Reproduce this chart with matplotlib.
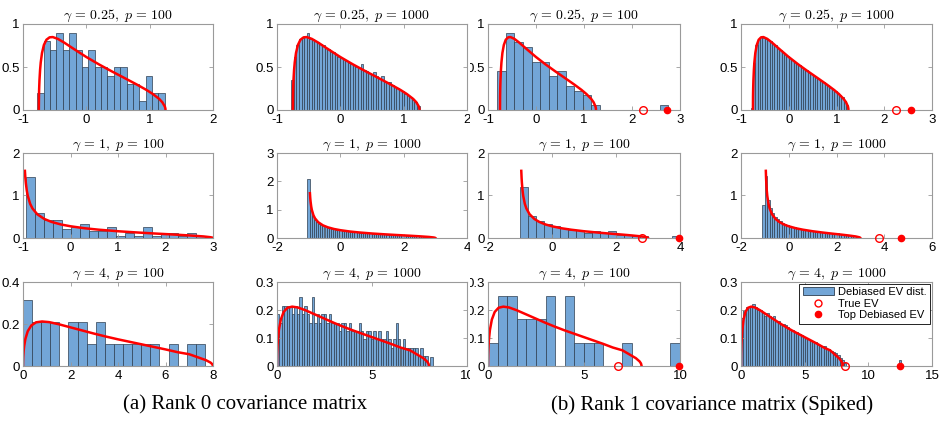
import matplotlib
matplotlib.use('Agg')
import matplotlib.pyplot as plt
from matplotlib.lines import Line2D
from matplotlib.patches import Patch
from matplotlib.transforms import Bbox

plt.rcParams['font.family'] = ['Liberation Sans', 'DejaVu Sans']
plt.rcParams['mathtext.fontset'] = 'cm'
plt.rcParams['axes.unicode_minus'] = False

# ---- red theoretical density curves ----
curve_x_g025 = [-0.75, -0.748, -0.745, -0.74, -0.73, -0.72, -0.70, -0.67, -0.63, -0.58, -0.53, -0.45, -0.35,
                -0.2, 0.0, 0.2, 0.4, 0.6, 0.8, 0.95, 1.05, 1.15, 1.2, 1.24, 1.248, 1.25]
curve_y_g025 = [0, 0.16, 0.249, 0.345, 0.469, 0.553, 0.663, 0.756, 0.817, 0.845, 0.848, 0.827, 0.784,
                0.711, 0.616, 0.530, 0.450, 0.373, 0.295, 0.233, 0.186, 0.129, 0.090, 0.040, 0.018, 0]
curve_x_g1 = [-0.96, -0.95, -0.94, -0.92, -0.9, -0.85, -0.8, -0.7, -0.55, -0.4, -0.2, 0, 0.3, 0.6, 1.0, 1.4,
              1.8, 2.2, 2.5, 2.8, 2.95, 2.99, 3.0]
curve_y_g1 = [1.58, 1.41, 1.29, 1.114, 0.994, 0.806, 0.694, 0.559, 0.447, 0.379, 0.318, 0.276, 0.229, 0.195,
              0.159, 0.130, 0.104, 0.080, 0.060, 0.037, 0.018, 0.008, 0]
curve_x_g4 = [0, 0.002, 0.01, 0.03, 0.05, 0.1, 0.2, 0.35, 0.55, 0.8, 1.1, 1.5, 2, 2.5, 3, 3.5, 4, 4.5, 5, 5.5,
              6, 6.5, 7, 7.4, 7.7, 7.9, 7.97, 8]
curve_y_g4 = [0, 0.020, 0.0445, 0.0756, 0.0956, 0.1286, 0.1657, 0.193, 0.208, 0.212, 0.209, 0.199, 0.184,
              0.169, 0.154, 0.140, 0.127, 0.115, 0.103, 0.091, 0.079, 0.066, 0.056, 0.040, 0.028, 0.016,
              0.0087, 0]

# ---- histogram bar heights (debiased eigenvalue distribution) ----
# rank 0
h_r0_g025_p100 = [0.2, 0.8, 0.7, 0.9, 0.7, 0.9, 0.7, 0.5, 0.7, 0.5, 0.5, 0.4, 0.5, 0.5, 0.3, 0.3, 0.1, 0.4,
                  0.2, 0.2]
h_r0_g025_p1000 = [0.35, 0.62, 0.76, 0.82, 0.84, 0.85, 0.90, 0.83, 0.82, 0.80, 0.79, 0.77, 0.75, 0.72, 0.71,
                   0.68, 0.67, 0.65, 0.62, 0.60, 0.59, 0.57, 0.55, 0.53, 0.52, 0.50, 0.49, 0.53, 0.47, 0.45,
                   0.43, 0.42, 0.44, 0.39, 0.37, 0.40, 0.34, 0.32, 0.33, 0.29, 0.27, 0.26, 0.23, 0.22, 0.19,
                   0.17, 0.15, 0.12, 0.09, 0.05]
h_r0_g1_p100 = [1.43, 0.58, 0.42, 0.42, 0.21, 0.26, 0.32, 0.16, 0.16, 0.26, 0.05, 0.11, 0.05, 0.26, 0.05,
                0.11, 0.11, 0.05, 0.11, 0.05]
h_r0_g1_p1000 = [2.07, 1.0, 0.76, 0.64, 0.56, 0.50, 0.46, 0.42, 0.39, 0.37, 0.35, 0.33, 0.31, 0.30, 0.28,
                 0.27, 0.26, 0.25, 0.24, 0.23, 0.22, 0.21, 0.205, 0.20, 0.19, 0.185, 0.18, 0.17, 0.17, 0.16,
                 0.157, 0.15, 0.146, 0.142, 0.137, 0.132, 0.128, 0.123, 0.119, 0.115, 0.11, 0.106, 0.102,
                 0.098, 0.094, 0.09, 0.086, 0.082, 0.078, 0.073, 0.069, 0.065, 0.06, 0.055, 0.051, 0.045,
                 0.04, 0.033, 0.025, 0.014]
h_r0_g4_p100 = [0.313, 0.209, 0.209, 0.209, 0, 0.209, 0.209, 0.104, 0.209, 0.104, 0.104, 0.104, 0.104, 0.104,
                0.104, 0, 0.104, 0, 0.104, 0.104]
h_r0_g4_p1000 = [0.185, 0.155, 0.215, 0.215, 0.215, 0.215, 0.185, 0.215,
                 0.185, 0.245, 0.185, 0.215, 0.185, 0.155, 0.245, 0.155,
                 0.185, 0.155, 0.185, 0.185, 0.155, 0.185, 0.155, 0.155,
                 0.155, 0.125, 0.155, 0.155, 0.125, 0.155, 0.125, 0.125,
                 0.125, 0.155, 0.125, 0.095, 0.125, 0.125, 0.095, 0.125,
                 0.095, 0.125, 0.095, 0.095, 0.125, 0.095, 0.065, 0.095,
                 0.155, 0.095, 0.065, 0.095, 0.065, 0.065, 0.065, 0.065,
                 0.065, 0.035, 0.065, 0.035, 0.035, 0.0, 0.031]
# rank 1 (spiked)
h_r1_g025_p100 = [0.45, 0.9, 0.79, 0.73, 0.56, 0.56, 0.39, 0.45, 0.28, 0.22, 0.17, 0.06, 0, 0, 0, 0, 0, 0, 0,
                  0.06]
h_r1_g025_p1000 = [0.02, 0.55, 0.75, 0.83, 0.85, 0.84, 0.83, 0.81, 0.80, 0.77, 0.75, 0.72, 0.70, 0.67, 0.65,
                   0.63, 0.60, 0.58, 0.56, 0.54, 0.52, 0.50, 0.48, 0.46, 0.44, 0.42, 0.40, 0.38, 0.36, 0.34,
                   0.33, 0.30, 0.29, 0.26, 0.24, 0.22, 0.20, 0.17, 0.15, 0.11, 0.06]
h_r1_g1_p100 = [1.2, 0.52, 0.4, 0.32, 0.28, 0.24, 0.2, 0.2, 0.12, 0.16, 0.12, 0.16, 0.08, 0.08, 0.04, 0.04,
                0, 0, 0, 0.04]
h_r1_g1_p1000 = [0.77, 1.45, 0.90, 0.70, 0.58, 0.50, 0.44, 0.40, 0.36, 0.33, 0.31, 0.285, 0.265, 0.25, 0.235,
                 0.22, 0.21, 0.20, 0.19, 0.18, 0.17, 0.163, 0.155, 0.148, 0.14, 0.133, 0.127, 0.12, 0.114,
                 0.107, 0.10, 0.12, 0.09, 0.083, 0.076, 0.07, 0.064, 0.057, 0.049, 0.04, 0.03]
h_r1_g4_p100 = [0.083, 0.25, 0.25, 0.167, 0.167, 0.167, 0.25, 0, 0.25, 0.083, 0.083, 0.083, 0, 0, 0.083, 0,
                0, 0, 0, 0.083]
h_r1_g4_p1000 = [0.17, 0.20, 0.21, 0.21, 0.21, 0.22, 0.21, 0.20, 0.20, 0.19, 0.18, 0.19, 0.18, 0.17, 0.18,
                 0.16, 0.16, 0.15, 0.15, 0.145, 0.14, 0.13, 0.13, 0.12, 0.12, 0.115, 0.11, 0.105, 0.10,
                 0.095, 0.09, 0.09, 0.085, 0.08, 0.075, 0.07, 0.07, 0.06, 0.06, 0.055, 0.05, 0.045, 0.04,
                 0.03, 0.02, 0.01]

# bin start and bin width of each histogram
bins_r0 = [(-0.775, 0.1007), (-0.775, 0.0405), (-0.94, 0.189), (-1.04, 0.0675), (0.0, 0.383), (0.0, 0.13)]
bins_r1 = [(-0.805, 0.178), (-0.8, 0.05), (-1.0, 0.25), (-1.1, 0.1), (0.0, 0.5), (0.0, 0.18)]

# lone outlier bar far right in the last panel
outlier_x = [12.42]
outlier_h = [0.022]

# spiked eigenvalue markers (rank 1 panels, order: g025 p100, g025 p1000, g1 p100, g1 p1000, g4 p100, g4 p1000)
true_ev = [2.22, 2.25, 2.82, 3.76, 6.75, 8.17]
top_ev = [2.73, 2.56, 3.98, 4.70, 9.97, 12.52]

gammas = ['0.25', '1', '4']
ps = ['100', '1000']

bar_color = '#73a6d7'
edge_color = '#2e3e50'
frame_color = '#9a9a9a'


def style_axes(ax, xlim, xticks, ylim, yticks):
    # MATLAB-like box with inward ticks on all sides
    ax.set_xlim(xlim)
    ax.set_ylim(ylim)
    ax.set_xticks(xticks)
    ax.set_yticks(yticks)
    ax.set_xticklabels([f'{t:g}' for t in xticks])
    ax.set_yticklabels([f'{t:g}' for t in yticks])
    ax.tick_params(direction='in', top=True, right=True, length=3, width=0.6, color=frame_color,
                   labelsize=9.5)
    ax.tick_params(axis='x', pad=3)
    ax.tick_params(axis='y', pad=2.5)
    for s in ax.spines.values():
        s.set_color(frame_color)
        s.set_linewidth(0.8)


def draw_hist(ax, start, width, heights):
    lefts = [start + i * width for i in range(len(heights))]
    ax.bar(lefts, heights, width=width, align='edge', color=bar_color, edgecolor=edge_color, linewidth=0.5)


def main():
    fig = plt.figure(figsize=(9.41, 4.23), dpi=100)

    col_left = [23, 277, 488, 741]
    col_width = [190, 190, 192, 191]
    row_top = [24, 153, 282]
    row_height = [86, 85, 84]

    curves = [(curve_x_g025, curve_y_g025), (curve_x_g1, curve_y_g1), (curve_x_g4, curve_y_g4)]
    r0_heights = [h_r0_g025_p100, h_r0_g025_p1000, h_r0_g1_p100, h_r0_g1_p1000, h_r0_g4_p100, h_r0_g4_p1000]
    r1_heights = [h_r1_g025_p100, h_r1_g025_p1000, h_r1_g1_p100, h_r1_g1_p1000, h_r1_g4_p100, h_r1_g4_p1000]

    # axis limits and ticks per panel [row][col]
    xlims = [[(-1, 2), (-1, 2), (-1, 3), (-1, 3)],
             [(-1, 3), (-2, 4), (-2, 4), (-2, 6)],
             [(0, 8), (0, 10), (0, 10), (0, 15)]]
    xticks = [[[-1, 0, 1, 2], [-1, 0, 1, 2], [-1, 0, 1, 2, 3], [-1, 0, 1, 2, 3]],
              [[-1, 0, 1, 2, 3], [-2, 0, 2, 4], [-2, 0, 2, 4], [-2, 0, 2, 4, 6]],
              [[0, 2, 4, 6, 8], [0, 5, 10], [0, 5, 10], [0, 5, 10, 15]]]
    ylims = [[1, 1, 1, 1], [2, 3, 2, 2], [0.4, 0.3, 0.3, 0.3]]
    yticks = [[[0, 0.5, 1]] * 4,
              [[0, 1, 2], [0, 1, 2, 3], [0, 1, 2], [0, 1, 2]],
              [[0, 0.2, 0.4], [0, 0.1, 0.2, 0.3], [0, 0.1, 0.2, 0.3], [0, 0.1, 0.2, 0.3]]]

    W, H = 941, 423
    for r in range(3):
        for c in range(4):
            rect = [col_left[c] / W, 1 - (row_top[r] + row_height[r]) / H, col_width[c] / W, row_height[r] / H]
            ax = fig.add_axes(rect)
            k = 2 * r + (c % 2)
            spiked = c >= 2
            heights = r1_heights[k] if spiked else r0_heights[k]
            start, width = bins_r1[k] if spiked else bins_r0[k]
            draw_hist(ax, start, width, heights)
            if spiked and k == 5:
                ax.bar(outlier_x, outlier_h, width=width, align='edge', color=bar_color,
                       edgecolor=edge_color, linewidth=0.5)
            ax.plot(curves[r][0], curves[r][1], color='red', linewidth=1.8)
            if spiked:
                ax.plot([true_ev[k]], [0], 'o', markerfacecolor='none', markeredgecolor='red',
                        markersize=5.5, markeredgewidth=1.0, clip_on=False, zorder=5)
                ax.plot([top_ev[k]], [0], 'o', color='red', markersize=4.5, clip_on=False, zorder=5)
            style_axes(ax, xlims[r][c], xticks[r][c], (0, ylims[r][c]), yticks[r][c])
            ax.set_title(r'$\gamma\,=\,%s,\;p\,=\,%s$' % (gammas[r], ps[c % 2]), fontsize=10, pad=3.5)

            # the two halves of the figure overlap slightly around x=470 px
            if c == 1:
                for t in ax.xaxis.get_major_ticks():
                    t.label1.set_clip_on(True)
                    t.label1.set_clip_box(Bbox.from_extents(0, 0, 470, H))
            if c == 2:
                for t in ax.yaxis.get_major_ticks():
                    t.label1.set_clip_on(True)
                    t.label1.set_clip_box(Bbox.from_extents(470, 0, W, H))

            if r == 2 and c == 3:
                handles = [Patch(facecolor=bar_color, edgecolor=edge_color, linewidth=0.6),
                           Line2D([], [], linestyle='none', marker='o', markerfacecolor='none',
                                  markeredgecolor='red', markersize=5),
                           Line2D([], [], linestyle='none', marker='o', color='red', markersize=4.5)]
                leg = ax.legend(handles, ['Debiased EV dist.', 'True EV', 'Top Debiased EV'],
                                loc='upper right', fontsize=8, fancybox=False, framealpha=1,
                                edgecolor='black', borderaxespad=0.15, handlelength=2.8,
                                handletextpad=0.4, labelspacing=0.15, borderpad=0.3)
                leg.get_frame().set_linewidth(0.6)

    fig.text(0.26, 0.043, '(a) Rank 0 covariance matrix', family='Liberation Serif', fontsize=15,
             ha='center', va='center')
    fig.text(0.757, 0.043, '(b) Rank 1 covariance matrix (Spiked)', family='Liberation Serif', fontsize=15,
             ha='center', va='center')

    fig.savefig('out.png', dpi=100)


if __name__ == "__main__":
    main()
